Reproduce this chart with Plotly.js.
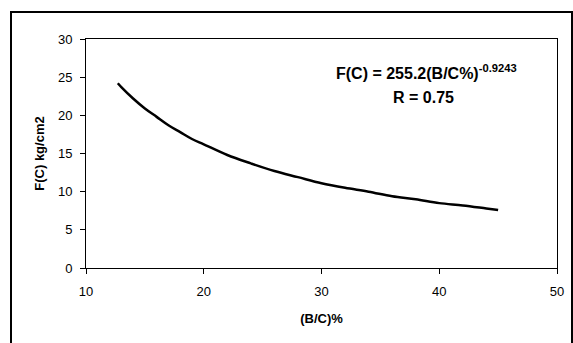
<!DOCTYPE html>
<html>
<head>
<meta charset="utf-8">
<script src="https://cdn.plot.ly/plotly-3.0.1.min.js"></script>
<style>
html,body{margin:0;padding:0;overflow:hidden;background:#fff;}
#chart{position:absolute;left:0;top:0;width:573px;height:343px;}
#frame{position:absolute;left:10px;top:11px;width:559px;height:500px;border:2px solid #000;pointer-events:none;}
</style>
</head>
<body>
<div id="chart"></div>
<div id="frame"></div>
<script>
// values
const bcPercent = [12.7, 13, 14, 15, 16, 17, 18, 19, 20, 22, 24, 26, 28, 30, 32, 34, 36, 38, 40, 42, 44, 45];
const strength  = [24.2, 23.7, 22.2, 20.9, 19.8, 18.7, 17.8, 16.9, 16.2, 14.8, 13.7, 12.7, 11.9, 11.1, 10.5, 10.0, 9.4, 9.0, 8.5, 8.2, 7.8, 7.6];
const xTitle = "(B/C)%";
const yTitle = "F(C) kg/cm2";
const eqText = "F(C) = 255.2(B/C%)<sup>-0.9243</sup>";
const rText = "R = 0.75";

const font = "Liberation Sans, Arial, sans-serif";

const trace = {
  x: bcPercent, y: strength, type: "scatter", mode: "lines",
  line: {color: "#000", width: 2.5, shape: "spline"},
  hoverinfo: "skip"
};

const axisCommon = {
  showgrid: false, zeroline: false, showline: true, mirror: true,
  linecolor: "#000", linewidth: 1, ticks: "outside", ticklen: 5,
  tickcolor: "#000", tickwidth: 1,
  tickfont: {family: font, size: 13, color: "#000"}
};

const layout = {
  width: 573, height: 343,
  margin: {l: 86, r: 16, t: 39, b: 75},
  paper_bgcolor: "#fff", plot_bgcolor: "#fff",
  showlegend: false,
  xaxis: Object.assign({}, axisCommon, {
    range: [10, 50], dtick: 10, tick0: 10, ticklabelstandoff: 6,
    title: {text: "<b>" + xTitle + "</b>", font: {family: font, size: 13, color: "#000"}, standoff: 16}
  }),
  yaxis: Object.assign({}, axisCommon, {
    range: [0, 30], dtick: 5, tick0: 0, ticklabelstandoff: 5,
    title: {text: "<b>" + yTitle + "</b>", font: {family: font, size: 13, color: "#000"}, standoff: 10}
  }),
  annotations: [
    {x: 38.93, y: 25.65, xref: "x", yref: "y", text: "<b>" + eqText + "</b>", showarrow: false,
     font: {family: font, size: 16, color: "#000"}},
    {x: 38.65, y: 22.34, xref: "x", yref: "y", text: "<b>" + rText + "</b>", showarrow: false,
     font: {family: font, size: 16, color: "#000"}}
  ]
};

Plotly.newPlot("chart", [trace], layout, {staticPlot: true, displayModeBar: false});
</script>
</body>
</html>
